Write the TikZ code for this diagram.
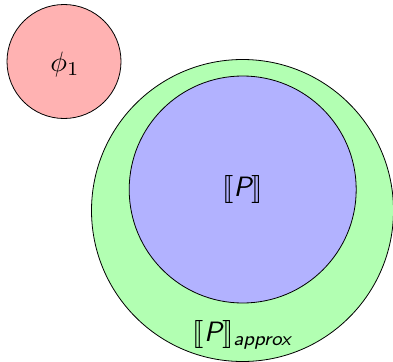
\documentclass[tikz,border=0pt]{standalone}
\usepackage{graphicx}
\usepackage{amsmath}
\usepackage{stmaryrd}
\newcommand{\semP}{\llbracket\textsf{\itshape P}\rrbracket}
\newcommand{\biglbl}[1]{\scalebox{2.8}{#1}}
\begin{document}
\begin{tikzpicture}[x=1pt,y=-1pt,
  region/.style={circle,draw=black,line width=0.8pt,inner sep=0pt},
  lbl/.style={inner sep=0pt}]
\useasboundingbox (0,0) rectangle (393,361);
% formula phi_1
\node[region,fill=red!30,minimum size=114pt] (phi) at (64,61.5) {};
% approximated semantics and exact semantics
\node[region,fill=green!30,minimum size=302pt] (approx) at (242.5,210.5) {};
\node[region,fill=blue!30,minimum size=227pt] (sem) at (242.7,189.5) {};
\node[lbl] (philbl) at (65,64.5) {\biglbl{$\phi_1$}};
\node[lbl] (semlbl) at (242.5,189) {\biglbl{$\semP$}};
\node[lbl] (approxlbl) at (242.5,335) {\biglbl{$\semP_{\textsf{\itshape approx}}$}};
\end{tikzpicture}
\end{document}
